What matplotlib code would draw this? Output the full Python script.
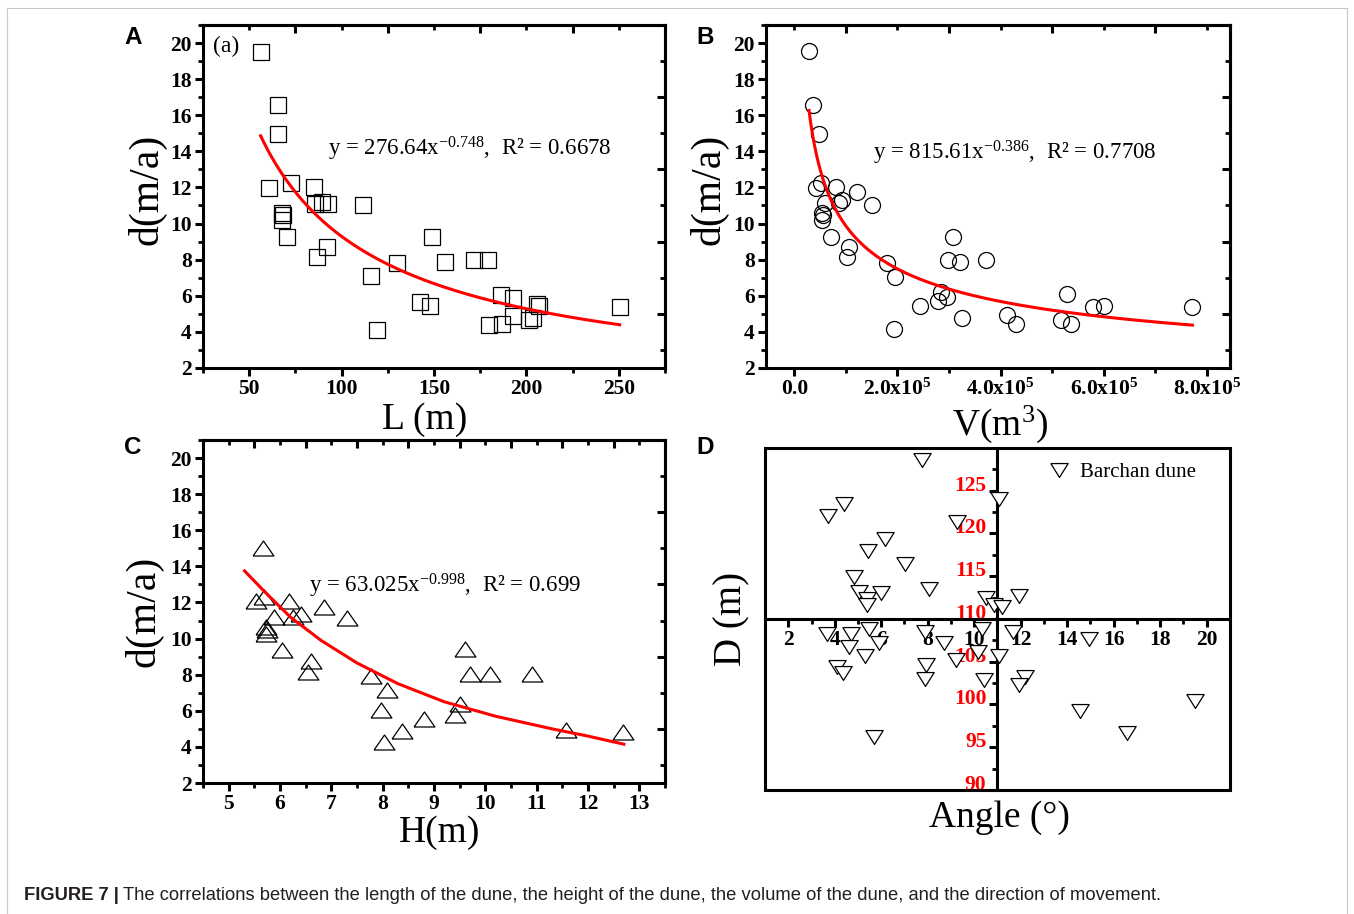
import numpy as np
import matplotlib
matplotlib.use('Agg')
import matplotlib.pyplot as plt
from matplotlib.ticker import MultipleLocator, FixedLocator, NullFormatter, FuncFormatter
from matplotlib.patches import Rectangle
from matplotlib.lines import Line2D

plt.rcParams['font.family'] = ['Liberation Serif', 'DejaVu Serif']
plt.rcParams['mathtext.fontset'] = 'custom'
plt.rcParams['mathtext.rm'] = 'Liberation Serif'
plt.rcParams['mathtext.it'] = 'Liberation Serif:italic'
plt.rcParams['mathtext.bf'] = 'Liberation Serif:bold'

# (A) dune length vs migration rate
L_len = [56.2, 65.8, 65.8, 60.6, 72.5, 67.5, 68.0, 68.5, 70.6, 85.0, 85.6, 89.4,
         92.9, 86.5, 92.3, 111.5, 115.8, 119.4, 130.2, 142.5, 148.1, 149.2, 155.8,
         171.7, 179.2, 179.8, 186.9, 186.5, 192.7, 192.7, 201.5, 203.5, 205.5,
         207.0, 250.5]
L_d = [19.5, 16.58, 14.97, 11.95, 12.23, 10.58, 10.2, 10.45, 9.23, 12.0, 11.1, 11.2,
       11.1, 8.14, 8.68, 11.03, 7.1, 4.13, 7.83, 5.67, 5.43, 9.27, 7.88,
       7.98, 7.98, 4.4, 4.42, 6.03, 5.9, 4.87, 4.65, 4.78, 5.55,
       5.45, 5.35]

# (B) dune volume vs migration rate
V_vol = [28500, 36800, 48700, 42400, 52100, 59100, 54200, 54200, 56000, 70200,
         80600, 92400, 86900, 102900, 106300, 122300, 150100, 180000, 195300,
         193900, 243300, 278700, 285000, 295400, 297500, 308600, 321800, 325300,
         371800, 412200, 430900, 516400, 528900, 537300, 579000, 599800, 772200]
V_d = [19.54, 16.58, 14.97, 11.99, 12.27, 11.12, 10.57, 10.2, 10.45, 9.23,
       12.0, 11.3, 11.16, 8.12, 8.72, 11.73, 11.0, 7.83, 7.05,
       4.15, 5.44, 5.70, 6.22, 5.94, 7.98, 9.27, 7.88, 4.78,
       7.98, 4.92, 4.46, 4.65, 6.07, 4.42, 5.35, 5.44, 5.35]

# (C) dune height vs migration rate
H_hgt = [5.66, 5.54, 5.69, 5.88, 5.72, 5.72, 5.74, 6.03, 6.17, 6.26, 6.41, 6.60,
         6.55, 6.86, 7.31, 7.78, 8.08, 7.97, 8.02, 8.38, 8.81, 9.41, 9.50, 9.60,
         9.70, 10.10, 10.91, 11.57, 12.69]
H_d = [15.04, 12.1, 12.33, 11.22, 10.66, 10.25, 10.45, 9.36, 12.1, 11.2, 11.36, 8.77,
       8.16, 11.77, 11.12, 7.94, 7.14, 6.03, 4.28, 4.87, 5.52, 5.76, 6.36, 9.4,
       8.03, 8.03, 8.03, 4.96, 4.8]
# red trend curve of panel C
H_curve_x = [5.31, 5.7, 6.2, 6.8, 7.5, 8.3, 9.2, 10.2, 11.3, 12.0, 12.7]
H_curve_y = [13.75, 12.6, 11.2, 9.9, 8.65, 7.5, 6.5, 5.7, 5.0, 4.6, 4.15]

# (D) movement angle vs distance
D_angle = [7.77, 11.05, 4.40, 3.71, 9.25, 6.18, 5.41, 7.02, 4.83, 8.05,
           5.03, 6.01, 5.40, 5.40, 10.50, 11.91, 10.84, 11.19, 3.65, 4.72,
           5.48, 4.60, 5.90, 5.29, 7.90, 8.69, 10.35, 10.16, 11.65, 9.20,
           11.05, 4.11, 4.37, 7.93, 7.87, 10.44, 12.19, 11.93, 14.53, 19.51,
           5.67, 16.56, 14.95]
D_dist = [128.63, 124.05, 123.42, 122.09, 121.31, 119.32, 117.95, 116.42, 114.93, 113.48,
          113.17, 113.09, 112.39, 111.6, 112.47, 112.70, 111.6, 111.41, 108.2, 108.2,
          108.86, 106.71, 107.22, 105.66, 108.47, 107.22, 108.79, 106.13, 108.47, 105.23,
          105.66, 104.44, 103.7, 104.56, 102.99, 102.88, 103.27, 102.29, 99.28, 100.45,
          96.22, 96.61, 107.6]

eq_texts = [r'y = 276.64x$^{-0.748}$,  R² = 0.6678',
            r'y = 815.61x$^{-0.386}$,  R² = 0.7708',
            r'y = 63.025x$^{-0.998}$,  R² = 0.699']

tri_up = [(-1, -0.72), (1, -0.72), (0, 0.72), (-1, -0.72)]
tri_down = [(-1, 0.8), (1, 0.8), (0, -0.8), (-1, 0.8)]
LW = 2.2
TICK_FS = 15.5
EQ_FS = 16.5


def power_fit(x, y):
    # least squares fit of y = a * x^b
    x = np.asarray(x, float)
    y = np.asarray(y, float)
    best = None
    for b in np.linspace(-2.0, -0.05, 1951):
        xb = x ** b
        a = np.sum(y * xb) / np.sum(xb * xb)
        sse = np.sum((y - a * xb) ** 2)
        if best is None or sse < best[0]:
            best = (sse, a, b)
    return best[1], best[2]


def style_axes(ax, xlim, xmajor, xminor, top_major, top_minor):
    ax.set_xlim(*xlim)
    ax.set_ylim(2, 21)
    ax.xaxis.set_major_locator(MultipleLocator(xmajor))
    ax.xaxis.set_minor_locator(MultipleLocator(xminor))
    ax.yaxis.set_major_locator(MultipleLocator(2))
    ax.yaxis.set_minor_locator(MultipleLocator(1))
    ax.tick_params(which='major', direction='out', length=6, width=LW, labelsize=TICK_FS, pad=2)
    ax.tick_params(which='minor', direction='out', length=3.5, width=2)
    for s in ax.spines.values():
        s.set_linewidth(LW)
    plt.setp(ax.get_xticklabels() + ax.get_yticklabels(), fontweight='bold')

    top = ax.secondary_xaxis('top')
    top.xaxis.set_major_locator(FixedLocator(top_major))
    top.xaxis.set_minor_locator(FixedLocator(top_minor))
    top.xaxis.set_major_formatter(NullFormatter())
    top.tick_params(which='major', direction='in', length=6, width=LW)
    top.tick_params(which='minor', direction='in', length=3.5, width=2)
    for s in top.spines.values():
        s.set_linewidth(LW)

    right = ax.secondary_yaxis('right')
    right.yaxis.set_major_locator(FixedLocator([5, 9, 13, 17]))
    right.yaxis.set_minor_locator(FixedLocator([3, 7, 11, 15, 19]))
    right.yaxis.set_major_formatter(NullFormatter())
    right.tick_params(which='major', direction='in', length=6, width=LW)
    right.tick_params(which='minor', direction='in', length=3.5, width=2)
    for s in right.spines.values():
        s.set_linewidth(LW)


def scatter_fit(ax, x, y, marker, ms, curve=None):
    ax.plot(x, y, ls='none', marker=marker, ms=ms, mfc='none', mec='black', mew=0.9, zorder=3)
    if curve is None:
        a, b = power_fit(x, y)
        xs = np.linspace(min(x), max(x), 200)
        curve = (xs, a * xs ** b)
    ax.plot(curve[0], curve[1], color='#ff0000', lw=2.2, zorder=4,
            solid_joinstyle='round')


fig = plt.figure(figsize=(13.54, 9.14), dpi=100)

axA = fig.add_axes([0.1499, 0.5974, 0.3412, 0.3753])
axB = fig.add_axes([0.5657, 0.5974, 0.3427, 0.3753])
axC = fig.add_axes([0.1499, 0.1433, 0.3412, 0.3753])
axD = fig.add_axes([0.5650, 0.1357, 0.3434, 0.3742])

# A
scatter_fit(axA, L_len, L_d, 's', 11.5)
style_axes(axA, (25, 275), 50, 25, [75, 125, 175, 225], [50, 100, 150, 200, 250])
axA.text(92.5, 14.15, eq_texts[0], fontsize=EQ_FS, va='center')
axA.text(30.5, 19.8, '(a)', fontsize=17, va='center')
axA.set_xlabel('L (m)', fontsize=27)
axA.set_ylabel('d(m/a)', fontsize=30)
axA.xaxis.set_label_coords(0.48, -0.1)
axA.yaxis.set_label_coords(-0.078, 0.52)

# B
scatter_fit(axB, V_vol, V_d, 'o', 11.5)
style_axes(axB, (-55000, 845000), 200000, 100000,
           [100000, 300000, 500000, 700000], [0, 200000, 400000, 600000, 800000])


def sci_fmt(v, pos):
    if abs(v) < 1:
        return '0.0'
    e = int(np.floor(np.log10(abs(v))))
    return r'%.1fx10$^{\mathbf{%d}}$' % (v / 10 ** e, e)


axB.xaxis.set_major_formatter(FuncFormatter(sci_fmt))
plt.setp(axB.get_xticklabels(), fontweight='bold')
axB.text(152000, 13.93, eq_texts[1], fontsize=EQ_FS, va='center')
axB.set_xlabel('V(m$^3$)', fontsize=27)
axB.set_ylabel('d(m/a)', fontsize=30)
axB.xaxis.set_label_coords(0.504, -0.105)
axB.yaxis.set_label_coords(-0.08, 0.52)

# C
scatter_fit(axC, H_hgt, H_d, tri_up, 15, curve=(H_curve_x, H_curve_y))
style_axes(axC, (4.5, 13.5), 1, 0.5, list(np.arange(5.5, 13, 1.0)), list(np.arange(5, 13.5, 1.0)))
axC.text(6.57, 12.93, eq_texts[2], fontsize=EQ_FS, va='center')
axC.set_xlabel('H(m)', fontsize=27)
axC.set_ylabel('d(m/a)', fontsize=30)
axC.xaxis.set_label_coords(0.513, -0.095)
axC.yaxis.set_label_coords(-0.086, 0.5)

# D: quadrant plot with axes crossing at the centre
axD.plot(D_angle, D_dist, ls='none', marker=tri_down, ms=12.5, mfc='white', mec='black',
         mew=0.9, zorder=3, label='Barchan dune')
axD.set_xlim(1, 21)
axD.set_ylim(90, 130)
axD.spines['left'].set_position(('axes', 0.5))
axD.spines['bottom'].set_position(('axes', 0.5))
axD.spines['top'].set_visible(False)
axD.spines['right'].set_visible(False)
for s in ['left', 'bottom']:
    axD.spines[s].set_linewidth(LW)
axD.add_patch(Rectangle((0, 0), 1, 1, transform=axD.transAxes, fill=False, lw=LW,
                        clip_on=False, zorder=2.6))
axD.xaxis.set_major_locator(MultipleLocator(2))
axD.xaxis.set_minor_locator(MultipleLocator(1))
axD.yaxis.set_major_locator(FixedLocator(np.arange(90, 126, 5)))
axD.yaxis.set_minor_locator(FixedLocator(np.arange(92.5, 130, 5)))
axD.tick_params(which='major', direction='out', length=6, width=LW, labelsize=TICK_FS, pad=2)
axD.tick_params(which='minor', direction='out', length=3.5, width=2)
axD.tick_params(axis='y', labelcolor='#ff0000')
plt.setp(axD.get_xticklabels() + axD.get_yticklabels(), fontweight='bold')
plt.setp(axD.get_yticklabels(), va='baseline')
axD.set_xlabel('Angle (°)', fontsize=27)
axD.set_ylabel('D (m)', fontsize=28)
axD.xaxis.set_label_coords(0.505, -0.03)
axD.yaxis.set_label_coords(-0.032, 0.5)
axD.legend(loc='upper right', bbox_to_anchor=(0.958, 1.0), frameon=False, fontsize=15,
           handlelength=1.0, handletextpad=0.5, borderaxespad=0.3)

# panel letters
for lab, (px, py) in zip('ABCD', [(133, 37), (705, 37), (133, 448), (705, 448)]):
    fig.text(px / 1354, 1 - py / 914, lab, family='Liberation Sans', weight='bold',
             fontsize=17.5, ha='center', va='center')

# light frame around the figure
frame_kw = dict(color='#c8c8c8', lw=0.8, transform=fig.transFigure)
fig.add_artist(Line2D([7 / 1354, 1347 / 1354], [1 - 8 / 914, 1 - 8 / 914], **frame_kw))
fig.add_artist(Line2D([7 / 1354, 7 / 1354], [0, 1 - 8 / 914], **frame_kw))
fig.add_artist(Line2D([1347 / 1354, 1347 / 1354], [0, 1 - 8 / 914], **frame_kw))

# caption
cap_family = ['Liberation Sans Narrow', 'Liberation Sans']
t1 = fig.text(24 / 1354, 1 - 895 / 914, 'FIGURE 7 |', family=cap_family, weight='bold',
              fontsize=13.2, va='center', color='#231f20')
axD.annotate('The correlations between the length of the dune, the height of the dune, '
             'the volume of the dune, and the direction of movement.',
             xy=(1, 0.5), xycoords=t1, xytext=(3, 0), textcoords='offset points',
             va='center', family=cap_family, fontsize=13.2, color='#231f20',
             annotation_clip=False)

fig.savefig('out.png', dpi=100)
